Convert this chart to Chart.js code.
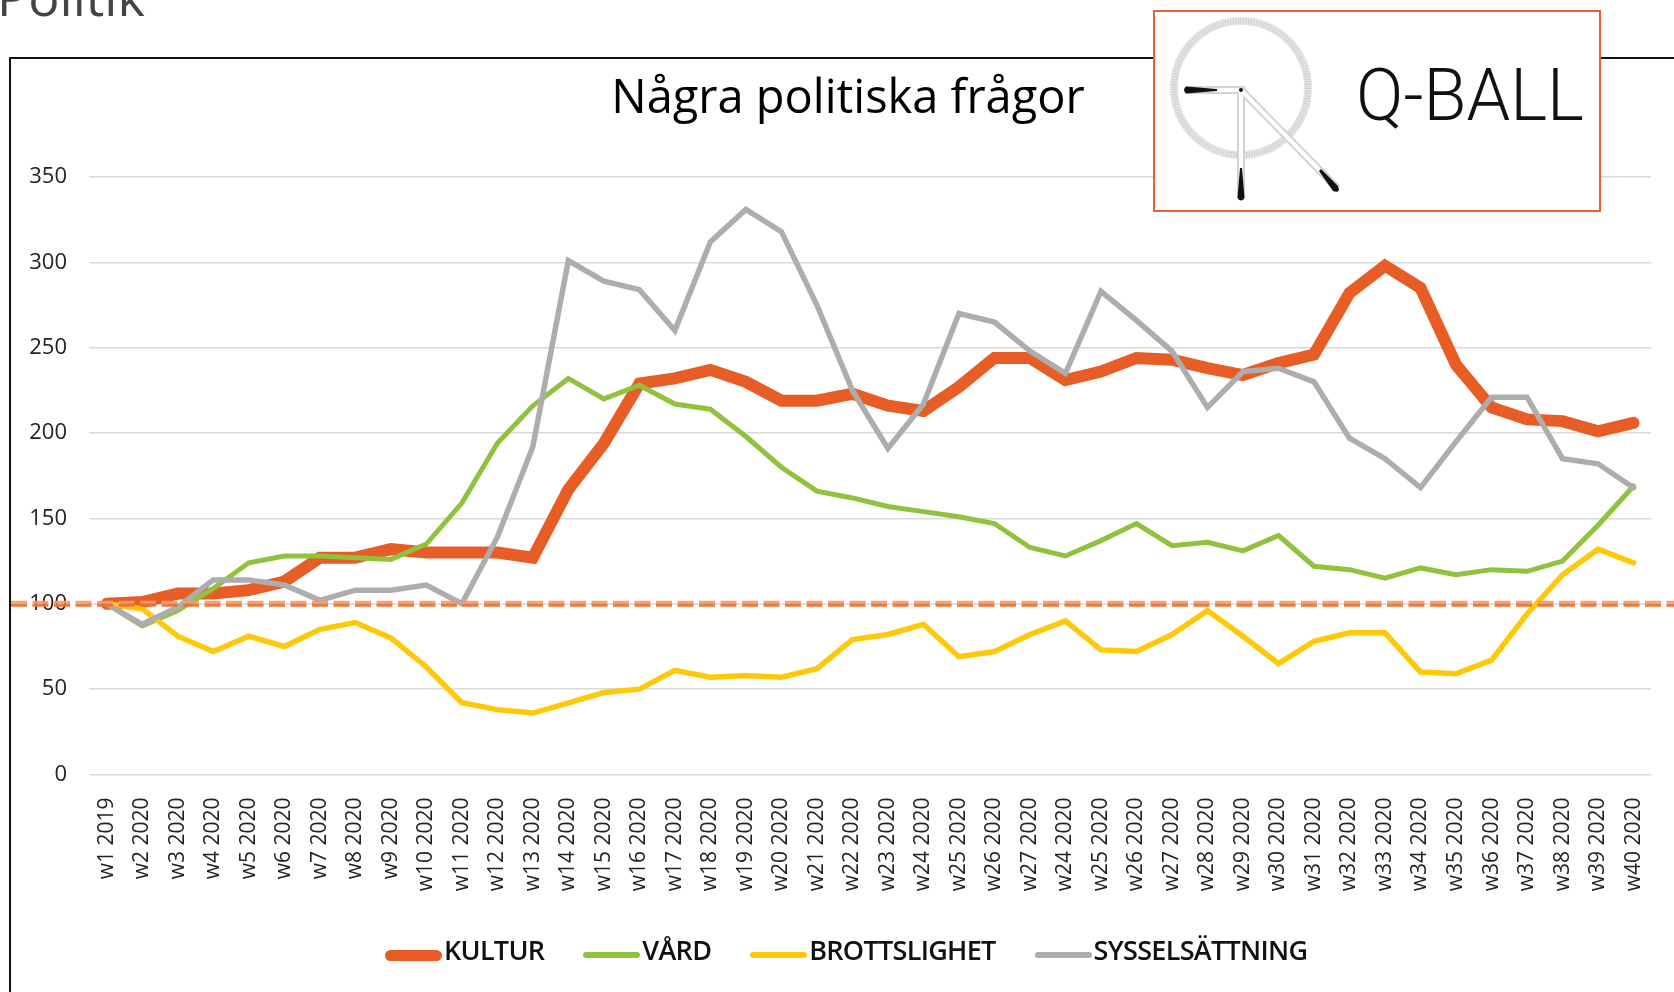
<!DOCTYPE html>
<html><head><meta charset="utf-8">
<script src="https://cdn.jsdelivr.net/npm/chart.js@4.4.1/dist/chart.umd.min.js"></script>
<style>
html,body{margin:0;padding:0;background:#fff;width:1674px;height:992px;overflow:hidden;position:relative;font-family:"Open Sans",sans-serif;}
#politik{position:absolute;left:-3px;top:-30px;font-size:52px;line-height:52px;color:#444;white-space:nowrap;}
#frame{position:absolute;left:9px;top:57px;width:1700px;height:1000px;border-left:2px solid #111;border-top:2px solid #111;}
#wrap{position:absolute;left:11px;top:59px;width:1663px;height:933px;}
#title{position:absolute;left:848px;top:72px;transform:translateX(-50%);font-size:47px;line-height:47px;color:#000;white-space:nowrap;font-weight:400;}
#logo{position:absolute;left:1153px;top:10px;}
#legend{position:absolute;left:385px;top:936px;display:flex;align-items:flex-start;}
.item{display:flex;align-items:flex-start;margin-right:39px;}
.sw{width:57px;margin-right:2px;border-radius:6px;}
.lt{font-size:27px;line-height:27px;font-weight:600;color:#111;white-space:nowrap;letter-spacing:-0.7px;}
</style></head>
<body>
<div id="politik">Politik</div>
<div id="frame"></div>
<div id="wrap"><canvas id="c" width="1663" height="933"></canvas></div>
<div id="title"></div>
<div id="legend"></div>
<svg id="logo" width="448" height="202" viewBox="0 0 448 202">
  <rect x="1" y="1" width="446" height="200" fill="#fff" stroke="#E8602C" stroke-width="2"/>
  <circle cx="88" cy="78" r="67" fill="none" stroke="#e6e6e6" stroke-width="8"/>
  <circle cx="88" cy="78" r="67" fill="none" stroke="#cdcdcd" stroke-width="6" stroke-dasharray="1 1.6"/>
  <g stroke="#d2d2d2" stroke-width="8" fill="none" stroke-linejoin="miter">
    <path d="M33 80 L88 80 L88 187 M88 80 L184 178"/>
  </g>
  <g stroke="#fff" stroke-width="4" fill="none">
    <path d="M33 80 L88 80 L88 187 M88 80 L184 178"/>
  </g>
  <path d="M33 76.5 Q29 80 33 83.5 L64 81 L64 79 Z" fill="#111"/>
  <path d="M84.5 188 Q88 193 91.5 188 L89 158 L87 158 Z" fill="#111"/>
  <path d="M180 181 Q188 184 185 176 L168 159 L166 161 Z" fill="#111"/>
  <circle cx="88" cy="80" r="2" fill="#111"/>
  <text x="203" y="110" font-family="Roboto" font-weight="300" font-size="72" fill="#111" textLength="228" lengthAdjust="spacingAndGlyphs">Q-BALL</text>
</svg>
<script>
const titleText = "Några politiska frågor";
const weekLabels = ["w1 2019","w2 2020","w3 2020","w4 2020","w5 2020","w6 2020","w7 2020","w8 2020","w9 2020","w10 2020","w11 2020","w12 2020","w13 2020","w14 2020","w15 2020","w16 2020","w17 2020","w18 2020","w19 2020","w20 2020","w21 2020","w22 2020","w23 2020","w24 2020","w25 2020","w26 2020","w27 2020","w24 2020","w25 2020","w26 2020","w27 2020","w28 2020","w29 2020","w30 2020","w31 2020","w32 2020","w33 2020","w34 2020","w35 2020","w36 2020","w37 2020","w38 2020","w39 2020","w40 2020"];
const seriesNames = ["KULTUR","VÅRD","BROTTSLIGHET","SYSSELSÄTTNING"];
const seriesColors = ["#E85C26","#92C13E","#FFC90A","#ADADAD"];
const seriesWidths = [12,5,5.5,5.5];
const kultur = [100,101,106,106,108,113,127,127,132,130,130,130,127,167,194,229,232,237,230,219,219,223,216,213,227,244,244,231,236,244,243,238,234,241,246,282,298,285,240,215,208,207,201,206];
const vard = [100,87,96,109,124,128,128,127,126,135,159,194,216,232,220,228,217,214,198,180,166,162,157,154,151,147,133,128,137,147,134,136,131,140,122,120,115,121,117,120,119,125,146,169];
const brottslighet = [100,97,81,72,81,75,85,89,80,63,42,38,36,42,48,50,61,57,58,57,62,79,82,88,69,72,82,90,73,72,82,96,81,65,78,83,83,60,59,67,94,117,132,124];
const sysselsattning = [100,88,98,114,114,111,102,108,108,111,100,139,192,301,289,284,260,312,331,318,275,225,191,217,270,265,248,235,283,266,248,215,236,238,230,197,185,168,195,221,221,185,182,168];
const yTicks = [0,50,100,150,200,250,300,350];
const referenceValue = 100;

document.getElementById('title').textContent = titleText;

const seriesData = [kultur, vard, brottslighet, sysselsattning];

const legendEl = document.getElementById('legend');
seriesNames.forEach((name, i) => {
  const item = document.createElement('div'); item.className = 'item';
  const sw = document.createElement('div'); sw.className = 'sw';
  const h = i === 0 ? 11 : 6;
  sw.style.height = h + 'px';
  sw.style.marginTop = (19 - h / 2) + 'px';
  sw.style.background = seriesColors[i];
  const t = document.createElement('div'); t.className = 'lt'; t.textContent = name;
  item.appendChild(sw); item.appendChild(t);
  legendEl.appendChild(item);
});

const refLine = {
  id: 'refLine',
  afterDatasetsDraw(chart) {
    const y = chart.scales.y.getPixelForValue(referenceValue);
    const ctx = chart.ctx;
    ctx.save();
    ctx.setLineDash([16, 5.5]);
    ctx.lineWidth = 3;
    ctx.strokeStyle = 'rgba(243,155,105,0.92)';
    ctx.beginPath(); ctx.moveTo(0, y - 1.5); ctx.lineTo(chart.width, y - 1.5); ctx.stroke();
    ctx.strokeStyle = 'rgba(234,112,50,0.92)';
    ctx.beginPath(); ctx.moveTo(0, y + 1.5); ctx.lineTo(chart.width, y + 1.5); ctx.stroke();
    ctx.restore();
  }
};

const orders = [4, 3, 2, 1];
new Chart(document.getElementById('c'), {
  type: 'line',
  data: {
    labels: weekLabels,
    datasets: seriesNames.map((name, i) => ({
      label: name, data: seriesData[i], borderColor: seriesColors[i], backgroundColor: seriesColors[i],
      borderWidth: seriesWidths[i], pointRadius: 0, tension: 0, borderCapStyle: 'round',
      borderJoinStyle: 'miter', order: orders[i], fill: false
    }))
  },
  options: {
    responsive: false, animation: false, devicePixelRatio: 1,
    layout: { padding: { left: 0, right: 22, top: 118, bottom: 84 } },
    plugins: {
      title: { display: false },
      legend: { display: false },
      tooltip: { enabled: false }
    },
    scales: {
      x: { offset: true, grid: { display: false }, border: { display: false },
        ticks: { autoSkip: false, maxRotation: 90, minRotation: 90, padding: 15,
          font: { family: '"Open Sans"', size: 21 }, color: '#222' },
        afterFit(s) { s.height = 133.5; } },
      y: { min: 0, max: 350,
        afterBuildTicks(s) { s.ticks = yTicks.map(v => ({ value: v })); },
        ticks: { padding: 22, font: { family: '"Open Sans"', size: 22 }, color: '#222' },
        grid: { color: '#d9d9d9', lineWidth: 1.5, drawTicks: false },
        border: { display: false },
        afterFit(s) { s.width = 78; } }
    }
  },
  plugins: [refLine]
});
</script>
</body></html>
